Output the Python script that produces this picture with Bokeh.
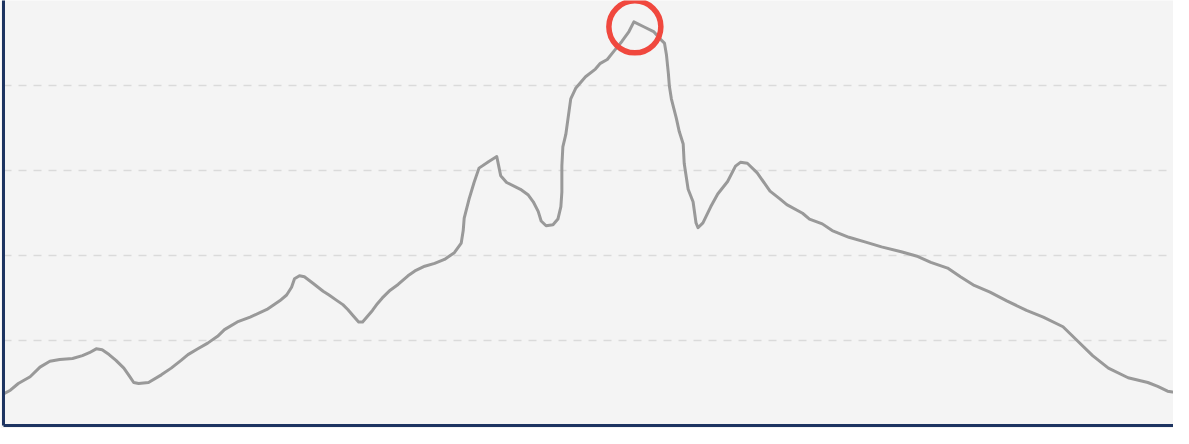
from bokeh.plotting import figure
from bokeh.embed import file_html
from bokeh.resources import INLINE
from bokeh.models import Range1d, FixedTicker

# distance along route and elevation
distance = [0, 7, 15, 27, 37, 47, 57, 70, 80, 87, 94, 100, 107, 114, 122, 128, 132, 137, 147,
            160, 170, 180, 187, 197, 207, 217, 224, 237, 250, 267, 280, 287, 292, 295, 300, 305,
            314, 324, 330, 337, 344, 349, 354, 360, 364, 369, 374, 379, 384, 392, 400, 410, 417,
            427, 437, 447, 457, 464, 466, 467, 472, 477, 482, 492, 500, 502, 504, 510, 524, 532,
            537, 542, 545, 550, 557, 562, 565, 566, 566, 567, 570, 575, 580, 590, 600, 605, 612,
            619, 627, 634, 639, 649, 659, 665, 670, 672, 674, 675, 677, 682, 685, 689, 690, 694,
            699, 702, 704, 709, 717, 724, 734, 742, 747, 754, 764, 777, 787, 794, 810, 817, 830,
            840, 857, 874, 890, 910, 927, 940, 957, 970, 984, 1000, 1017, 1037, 1054, 1074, 1087,
            1104, 1120, 1140, 1160, 1170, 1180, 1185]
elevation = [37, 41.5, 49.4, 57.4, 68.7, 75.5, 77.7, 78.8, 82.2, 85.6, 90.2, 89, 83.4, 76.6,
             67.5, 57.4, 50.6, 49.4, 50.6, 59.6, 67.5, 76.6, 83.4, 90.2, 96.9, 104.9, 112.8, 121.8,
             127.5, 136.5, 146.7, 153.5, 162.6, 172.7, 176.1, 175, 167.1, 158, 153.5, 147.8, 142.2,
             136.5, 129.7, 121.8, 121.8, 128.6, 135.4, 143.3, 150.1, 159.2, 165.9, 176.1, 181.8,
             187.4, 190.8, 195.4, 203.3, 214.6, 229.3, 244, 266.6, 285.9, 302.8, 310.7, 316.4,
             305.1, 293.8, 285.9, 277.9, 271.1, 263.2, 251.9, 240.6, 235, 236.1, 242.9, 257.6,
             274.5, 305.1, 327.7, 342.4, 384.3, 396.7, 410.3, 419.3, 426.1, 430.6, 440.8, 452.1,
             463.5, 474.8, 469.1, 463.5, 455.5, 449.9, 436.3, 413.7, 399, 384.3, 361.6, 345.8,
             331.1, 308.5, 277.9, 263.2, 238.3, 232.7, 238.3, 257.6, 272.3, 287, 305.1, 309.6,
             308.5, 297.2, 275.7, 266.6, 259.8, 249.7, 242.9, 237.2, 229.3, 221.4, 215.7, 210.1,
             204.4, 198.8, 192, 185.2, 175, 164.8, 156.9, 146.7, 135.4, 127.5, 116.2, 101.5,
             82.2, 67.5, 56.2, 50.6, 46, 40.4, 39.3]

# highlighted summit marker
summit_distance = [640]
summit_elevation = [469]

grid_levels = [100, 200, 300, 400, 500]

p = figure(width=1173, height=428, output_backend="svg", toolbar_location=None,
           x_range=Range1d(0, 1186), y_range=Range1d(0, 500),
           background_fill_color="#f4f4f4", border_fill_color="#f4f4f4",
           min_border_left=3, min_border_right=0, min_border_top=0, min_border_bottom=3)
p.outline_line_color = None

for ax in (p.xaxis[0], p.yaxis[0]):
    ax.ticker = FixedTicker(ticks=[])
    ax.axis_line_color = "#1d3461"
    ax.axis_line_width = 3
    ax.major_tick_line_color = None
    ax.minor_tick_line_color = None
    ax.major_label_standoff = 0
    ax.major_tick_out = 0
    ax.major_tick_in = 0

p.xgrid.grid_line_color = None
p.ygrid.ticker = FixedTicker(ticks=grid_levels)
p.ygrid.grid_line_color = "#dadada"
p.ygrid.grid_line_width = 1.5
p.ygrid.grid_line_dash = "8 7"

p.line(distance, elevation, line_color="#999999", line_width=3, line_join="round",
       line_cap="round")
p.scatter(summit_distance, summit_elevation, size=52, fill_color=None,
          line_color="#f0483e", line_width=5.5)

open("out.html", "w").write(file_html(p, INLINE))
